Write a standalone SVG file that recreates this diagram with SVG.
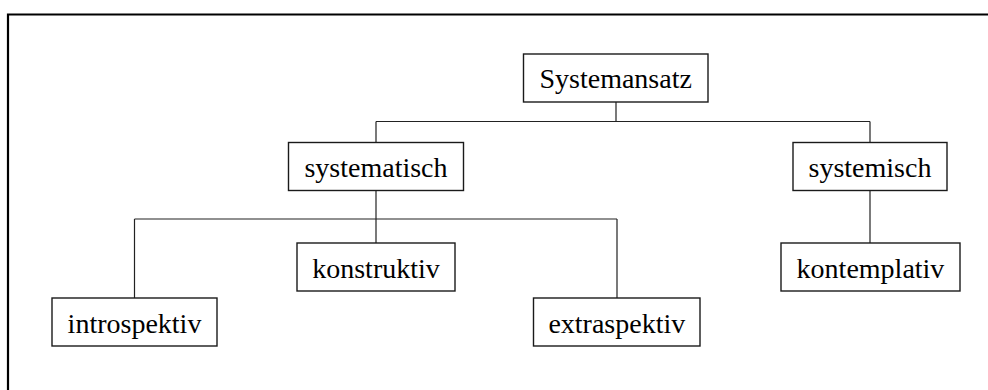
<svg xmlns="http://www.w3.org/2000/svg" width="988" height="390" viewBox="0 0 988 390">
  <style>
    .box { fill: #ffffff; stroke: #1a1a1a; stroke-width: 1.4; }
    .lbl { font-size: 28px; fill: #000000; text-anchor: middle; }
    .wire { fill: none; stroke: #222222; stroke-width: 1.2; }
  </style>
  <rect width="988" height="390" fill="#ffffff"/>
  <!-- outer frame, open to the right and bottom -->
  <path d="M8,390 V14.5 H988" fill="none" stroke="#000000" stroke-width="2.2"/>

  <g id="connectors">
    <path class="wire" d="M616,102 V121.5 M376,121.5 H870 M376,121.5 V142.5 M870,121.5 V142.5"/>
    <path class="wire" d="M376,190.5 V219" stroke-width="2"/>
    <path class="wire" d="M376,219 V243 M134.5,219 H617 M134.5,219 V298 M617,219 V298"/>
    <path class="wire" d="M870,190.5 V243"/>
  </g>

  <g font-family="'Liberation Serif', 'Times New Roman', serif">
    <g id="systemansatz">
      <rect class="box" x="523.5" y="54" width="184.5" height="48"/>
      <text class="lbl" x="615.7" y="88">Systemansatz</text>
    </g>
    <g id="systematisch">
      <rect class="box" x="288.5" y="142.5" width="175" height="48"/>
      <text class="lbl" x="376" y="177">systematisch</text>
    </g>
    <g id="systemisch">
      <rect class="box" x="793" y="142.5" width="154" height="48"/>
      <text class="lbl" x="870" y="177">systemisch</text>
    </g>
    <g id="konstruktiv">
      <rect class="box" x="297" y="243" width="158" height="48"/>
      <text class="lbl" x="376" y="277.5">konstruktiv</text>
    </g>
    <g id="kontemplativ">
      <rect class="box" x="781" y="243" width="179" height="48"/>
      <text class="lbl" x="870.5" y="277.5">kontemplativ</text>
    </g>
    <g id="introspektiv">
      <rect class="box" x="52" y="298" width="165" height="48"/>
      <text class="lbl" x="134.5" y="332.5">introspektiv</text>
    </g>
    <g id="extraspektiv">
      <rect class="box" x="533.5" y="298" width="166.5" height="48"/>
      <text class="lbl" x="616.8" y="332.5">extraspektiv</text>
    </g>
  </g>
</svg>
